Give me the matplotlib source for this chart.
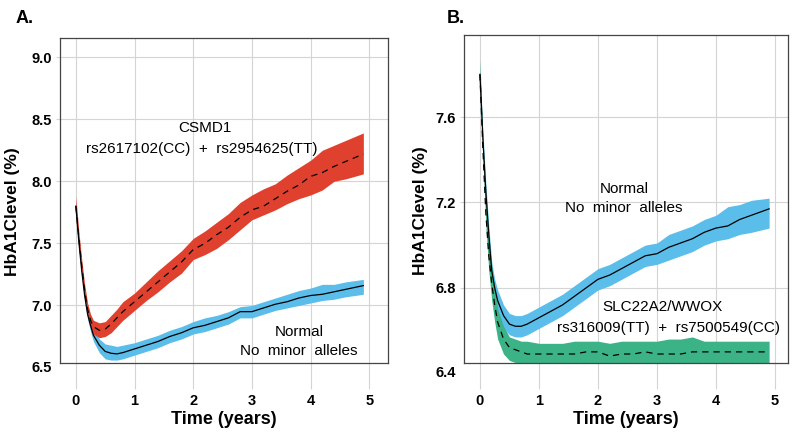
import numpy as np
import matplotlib
matplotlib.use("Agg")
import matplotlib.pyplot as plt
import matplotlib.transforms as mtransforms

plt.rcParams['font.family'] = ['Liberation Sans', 'DejaVu Sans']

# time points (years)
t = [0, 0.05, 0.1, 0.15, 0.2, 0.25, 0.3, 0.4, 0.5, 0.6, 0.7, 0.8, 1.0, 1.2, 1.4, 1.6,
     1.8, 2.0, 2.2, 2.4, 2.6, 2.8, 3.0, 3.2, 3.4, 3.6, 3.8, 4.0, 4.2, 4.4, 4.6, 4.9]

# Panel A: CSMD1 carriers (red, dashed)
a_risk_mean = [7.80, 7.55, 7.32, 7.12, 6.97, 6.88, 6.83, 6.80, 6.81, 6.85, 6.90, 6.95, 7.03, 7.11,
               7.19, 7.27, 7.35, 7.45, 7.50, 7.57, 7.63, 7.71, 7.77, 7.80, 7.86, 7.92, 7.97, 8.04,
               8.07, 8.12, 8.16, 8.22]
a_risk_low = [7.76, 7.51, 7.28, 7.08, 6.93, 6.83, 6.77, 6.74, 6.75, 6.78, 6.83, 6.88, 6.96, 7.04,
              7.11, 7.19, 7.26, 7.37, 7.41, 7.46, 7.53, 7.61, 7.69, 7.73, 7.77, 7.82, 7.86, 7.89,
              7.93, 8.00, 8.02, 8.06]
a_risk_high = [7.88, 7.60, 7.37, 7.17, 7.02, 6.93, 6.88, 6.86, 6.87, 6.92, 6.97, 7.03, 7.10, 7.19,
               7.28, 7.36, 7.44, 7.54, 7.60, 7.67, 7.74, 7.83, 7.89, 7.94, 7.98, 8.05, 8.11, 8.17,
               8.25, 8.29, 8.33, 8.39]

# Panel A: normal (blue, solid)
a_norm_mean = [7.80, 7.52, 7.28, 7.08, 6.93, 6.84, 6.76, 6.68, 6.63, 6.615, 6.61, 6.62, 6.65, 6.68,
               6.71, 6.75, 6.78, 6.82, 6.84, 6.87, 6.90, 6.95, 6.95, 6.98, 7.01, 7.03, 7.06, 7.08,
               7.09, 7.11, 7.13, 7.16]
a_norm_low = [7.77, 7.49, 7.24, 7.04, 6.89, 6.79, 6.71, 6.62, 6.57, 6.56, 6.56, 6.57, 6.60, 6.63,
              6.66, 6.70, 6.73, 6.77, 6.79, 6.82, 6.85, 6.90, 6.90, 6.93, 6.96, 6.98, 7.00, 7.02,
              7.04, 7.05, 7.07, 7.09]
a_norm_high = [7.83, 7.55, 7.32, 7.12, 6.97, 6.89, 6.81, 6.73, 6.69, 6.68, 6.67, 6.68, 6.70, 6.73,
               6.76, 6.80, 6.83, 6.87, 6.90, 6.92, 6.95, 6.99, 7.00, 7.03, 7.06, 7.09, 7.12, 7.14,
               7.17, 7.17, 7.19, 7.21]

# Panel B: normal (blue, solid)
b_norm_mean = [7.80, 7.50, 7.25, 7.05, 6.88, 6.80, 6.74, 6.67, 6.63, 6.62, 6.62, 6.63, 6.66, 6.69,
               6.72, 6.76, 6.80, 6.84, 6.86, 6.89, 6.92, 6.95, 6.96, 6.99, 7.01, 7.03, 7.06, 7.08,
               7.09, 7.12, 7.14, 7.17]
b_norm_low = [7.78, 7.47, 7.21, 7.01, 6.84, 6.76, 6.69, 6.61, 6.58, 6.57, 6.57, 6.58, 6.61, 6.64,
              6.67, 6.71, 6.75, 6.79, 6.81, 6.84, 6.87, 6.90, 6.91, 6.93, 6.95, 6.97, 7.00, 7.02,
              7.03, 7.05, 7.06, 7.08]
b_norm_high = [7.82, 7.53, 7.29, 7.09, 6.92, 6.84, 6.79, 6.72, 6.68, 6.67, 6.67, 6.68, 6.71, 6.74,
               6.77, 6.81, 6.85, 6.89, 6.91, 6.94, 6.97, 7.00, 7.01, 7.05, 7.07, 7.09, 7.12, 7.14,
               7.18, 7.19, 7.21, 7.22]

# Panel B: SLC22A2/WWOX carriers (green, dashed)
b_risk_mean = [7.80, 7.45, 7.15, 6.95, 6.82, 6.72, 6.64, 6.56, 6.52, 6.51, 6.50, 6.49, 6.49, 6.49,
               6.49, 6.49, 6.50, 6.50, 6.48, 6.49, 6.49, 6.50, 6.49, 6.49, 6.49, 6.50, 6.50, 6.50,
               6.50, 6.50, 6.50, 6.50]
b_risk_low = [7.76, 7.40, 7.09, 6.88, 6.74, 6.64, 6.56, 6.49, 6.46, 6.45, 6.45, 6.45, 6.45, 6.45,
              6.45, 6.45, 6.45, 6.45, 6.44, 6.45, 6.45, 6.45, 6.45, 6.45, 6.45, 6.45, 6.45, 6.45,
              6.45, 6.45, 6.45, 6.45]
b_risk_high = [7.87, 7.50, 7.21, 7.02, 6.90, 6.80, 6.70, 6.62, 6.57, 6.56, 6.55, 6.55, 6.54, 6.54,
               6.54, 6.55, 6.55, 6.55, 6.54, 6.55, 6.55, 6.55, 6.55, 6.56, 6.56, 6.57, 6.55, 6.55,
               6.55, 6.55, 6.55, 6.55]

RED = '#e0412e'
BLUE = '#5bbde9'
GREEN = '#3bb387'
GRID = '#d4d4d4'

fig = plt.figure(figsize=(8, 4.36), dpi=100)
axA = fig.add_axes([0.075, 0.167, 0.41, 0.746])
axB = fig.add_axes([0.58, 0.167, 0.405, 0.753])


def style(ax, label_x):
    ax.grid(True, color=GRID, linewidth=0.8)
    ax.set_axisbelow(True)
    for s in ax.spines.values():
        s.set_color('#444444')
        s.set_linewidth(0.9)
    ax.tick_params(axis='x', length=19, width=0.8, color=GRID, pad=3, labelsize=10.5)
    ax.tick_params(axis='y', length=3, width=0.8, color=GRID, pad=3, labelsize=10.5)
    for lab in ax.get_xticklabels() + ax.get_yticklabels():
        lab.set_fontweight('bold')
    ax.set_xlabel('Time (years)', fontsize=13, fontweight='bold', labelpad=2)
    ax.set_ylabel('HbA1Clevel (%)', fontsize=12.5, fontweight='bold')
    ax.yaxis.set_label_coords(label_x, 0.465)
    ax.set_xticks([0, 1, 2, 3, 4, 5])


def low_label(ax, y, text):
    # bottom tick label sits just under the clipped axis
    tr = mtransforms.blended_transform_factory(ax.transAxes, ax.transData)
    ax.text(-0.025, y, text, transform=tr, ha='right', va='center',
            fontsize=10.5, fontweight='bold', clip_on=False)


# Panel A
axA.fill_between(t, a_norm_low, a_norm_high, color=BLUE, linewidth=0)
axA.fill_between(t, a_risk_low, a_risk_high, color=RED, linewidth=0)
axA.plot(t, a_norm_mean, color='black', linewidth=0.9)
axA.plot(t, a_risk_mean, color='black', linewidth=0.9, linestyle=(0, (5, 4)))
axA.set_yticks([7.0, 7.5, 8.0, 8.5, 9.0])
axA.set_yticklabels(['7.0', '7.5', '8.0', '8.5', '9.0'])
axA.set_ylim(6.535, 9.155)
axA.set_xlim(-0.27, 5.32)
style(axA, -0.122)
low_label(axA, 6.5, '6.5')
axA.text(2.2, 8.43, 'CSMD1', ha='center', va='center', fontsize=11)
axA.text(2.15, 8.26, 'rs2617102(CC)  +  rs2954625(TT)', ha='center', va='center', fontsize=11)
axA.text(3.8, 6.79, 'Normal', ha='center', va='center', fontsize=11)
axA.text(3.8, 6.635, 'No  minor  alleles', ha='center', va='center', fontsize=11)
fig.text(0.019, 0.958, 'A.', fontsize=13, fontweight='bold', ha='left', va='center')

# Panel B
axB.fill_between(t, b_norm_low, b_norm_high, color=BLUE, linewidth=0)
axB.fill_between(t, b_risk_low, b_risk_high, color=GREEN, linewidth=0)
axB.plot(t, b_norm_mean, color='black', linewidth=0.9)
axB.plot(t, b_risk_mean, color='black', linewidth=0.9, linestyle=(0, (5, 4)))
axB.set_yticks([6.8, 7.2, 7.6])
axB.set_ylim(6.447, 7.985)
axB.set_xlim(-0.27, 5.22)
style(axB, -0.111)
low_label(axB, 6.4, '6.4')
axB.text(2.44, 7.265, 'Normal', ha='center', va='center', fontsize=11)
axB.text(2.44, 7.175, 'No  minor  alleles', ha='center', va='center', fontsize=11)
axB.text(3.1, 6.71, 'SLC22A2/WWOX', ha='center', va='center', fontsize=11)
axB.text(3.19, 6.61, 'rs316009(TT)  +  rs7500549(CC)', ha='center', va='center', fontsize=11)
fig.text(0.558, 0.958, 'B.', fontsize=13, fontweight='bold', ha='left', va='center')

fig.savefig('out.png', dpi=100)
